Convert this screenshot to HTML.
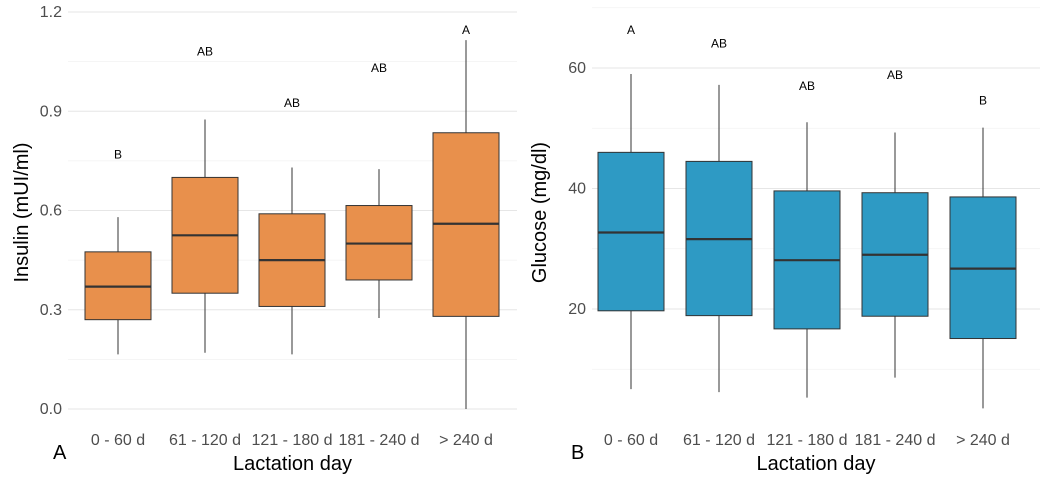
<!DOCTYPE html>
<html><head><meta charset="utf-8"><style>
body{margin:0;background:#fff;width:1044px;height:490px;overflow:hidden}
svg text{font-family:"Liberation Sans",sans-serif}
</style></head><body>
<svg id="c" width="1044" height="490"></svg>
<script>
const cats=["0 - 60 d","61 - 120 d","121 - 180 d","181 - 240 d","> 240 d"];
const insMin=[0.165,0.17,0.165,0.275,0.0];
const insQ1=[0.27,0.35,0.31,0.39,0.28];
const insMed=[0.37,0.525,0.45,0.50,0.56];
const insQ3=[0.475,0.70,0.59,0.615,0.835];
const insMax=[0.58,0.875,0.73,0.725,1.115];
const insLet=["B","AB","AB","AB","A"];
const insLetY=[0.77,1.08,0.925,1.03,1.145];
const insTicks=[0.0,0.3,0.6,0.9,1.2];
const gluMin=[6.7,6.2,5.3,8.6,3.5];
const gluQ1=[19.7,18.9,16.7,18.8,15.1];
const gluMed=[32.7,31.6,28.1,29.0,26.7];
const gluQ3=[46,44.5,39.6,39.3,38.6];
const gluMax=[59,57.2,51,49.3,50.1];
const gluLet=["A","AB","AB","AB","B"];
const gluLetY=[66.3,64.1,57,58.8,54.6];
const gluTicks=[20,40,60];
const svg=document.getElementById('c');
const NS="http://www.w3.org/2000/svg";
function el(t,a,p){const e=document.createElementNS(NS,t);for(const k in a)e.setAttribute(k,a[k]);(p||svg).appendChild(e);return e;}
function panel(o){
  const g=el('g',{});
  
  
  const y=v=>o.y0+(v-o.v0)*(o.y1-o.y0)/(o.v1-o.v0);
  const x=i=>o.cx0+i*o.step;
  for(let v=o.gmin;v<=o.gmax+1e-9;v+=o.minor){
    const major=o.ticks.some(t=>Math.abs(t-v)<1e-9);
    el('line',{x1:o.left,x2:o.right,y1:y(v),y2:y(v),stroke:major?'#e6e6e6':'#f2f2f2','stroke-width':major?1:0.7},g);
  }
  o.ticks.forEach(t=>{const tx=el('text',{x:o.left-6,y:y(t)+5,'text-anchor':'end','font-size':16,fill:'#4d4d4d'},g);tx.textContent=o.fmt(t);
    });
  cats.forEach((c,i)=>{
    const bw=66;
    const w=el('line',{x1:x(i),x2:x(i),y1:y(o.max[i]),y2:y(o.min[i]),stroke:'#333','stroke-width':1},g);
    
    const b=el('rect',{x:x(i)-bw/2,y:y(o.q3[i]),width:bw,height:y(o.q1[i])-y(o.q3[i]),fill:o.fill,stroke:'#333','stroke-width':1},g);
    
    el('line',{x1:x(i)-bw/2,x2:x(i)+bw/2,y1:y(o.med[i]),y2:y(o.med[i]),stroke:'#333','stroke-width':2.2},g);
    const l=el('text',{x:x(i),y:y(o.letY[i])+4,'text-anchor':'middle','font-size':12,fill:'#000'},g);l.textContent=o.lets[i];
    
    const t=el('text',{x:x(i),y:445,'text-anchor':'middle','font-size':16,fill:'#4d4d4d'},g);t.textContent=c;
    
  });
  const xt=el('text',{x:(o.left+o.right)/2,y:470,'text-anchor':'middle','font-size':20,fill:'#000'},g);xt.textContent='Lactation day';
  
  const yt=el('text',{transform:`translate(${o.ytx},${(o.top+o.bottom)/2}) rotate(-90)`,'text-anchor':'middle','font-size':20,fill:'#000'},g);yt.textContent=o.ytitle;
  
  const pl=el('text',{x:o.plx,y:459,'font-size':20,fill:'#000'},g);pl.textContent=o.plabel;
  
}
panel({name:'insulin-panel',v0:0,v1:1.2,y0:409,y1:12,left:68,right:517,top:0,bottom:425,cx0:118,step:87,
 gmin:0,gmax:1.2,minor:0.15,ticks:insTicks,fmt:v=>v.toFixed(1),min:insMin,q1:insQ1,med:insMed,q3:insQ3,max:insMax,
 letY:insLetY,lets:insLet,fill:'#E8904C',ytitle:'Insulin (mUI/ml)',ytx:28,plx:53,plabel:'A'});
panel({name:'glucose-panel',v0:20,v1:60,y0:309,y1:68,left:592,right:1040,top:0,bottom:425,cx0:631,step:88,
 gmin:10,gmax:70,minor:10,ticks:gluTicks,fmt:v=>String(v),min:gluMin,q1:gluQ1,med:gluMed,q3:gluQ3,max:gluMax,
 letY:gluLetY,lets:gluLet,fill:'#2E9AC4',ytitle:'Glucose (mg/dl)',ytx:546,plx:571,plabel:'B'});
</script>
</body></html>
